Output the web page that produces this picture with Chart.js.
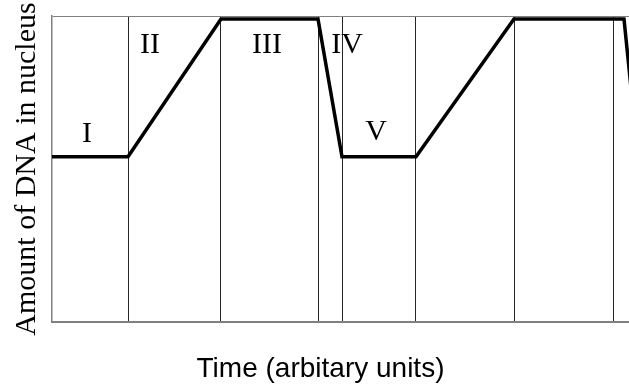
<!DOCTYPE html>
<html>
<head>
<meta charset="utf-8">
<script src="https://cdn.jsdelivr.net/npm/chart.js@4"></script>
<style>
  html, body { margin: 0; padding: 0; background: #fff; }
  #wrap { width: 629px; height: 389px; }
</style>
</head>
<body>
<div id="wrap"><canvas id="c" width="629" height="389"></canvas></div>
<script>
// Time points (arbitrary units) and relative DNA amount
const times   = [0, 7.6, 16.9, 26.6, 29.0, 36.4, 46.2, 57.2, 58.6];
const dnaAmt  = [5.4, 5.4, 9.9, 9.9, 5.4, 5.4, 9.9, 9.9, 5.4];
// Phase boundaries (vertical lines)
const boundaries = [7.6, 16.9, 26.6, 29.0, 36.4, 46.2, 56.1];
// Phase labels and where they sit (data units)
const phaseLabels = ['I', 'II', 'III', 'IV', 'V'];
const labelTimes  = [3.5, 9.8, 21.5, 29.5, 32.4];
const labelLevels = [5.88, 8.79, 8.79, 8.79, 5.95];
const xMax = 57.7;
const yMax = 10;

const phaseLabelPlugin = {
  id: 'phaseLabels',
  afterDatasetsDraw(chart) {
    const {ctx, scales: {x, y}} = chart;
    ctx.save();
    ctx.font = '30px "Liberation Serif", "Times New Roman", serif';
    ctx.fillStyle = '#000';
    ctx.textAlign = 'center';
    ctx.textBaseline = 'alphabetic';
    phaseLabels.forEach((t, i) => {
      ctx.fillText(t, x.getPixelForValue(labelTimes[i]), y.getPixelForValue(labelLevels[i]));
    });
    ctx.restore();
  }
};

new Chart(document.getElementById('c'), {
  type: 'line',
  data: {
    datasets: [{
      data: times.map((t, i) => ({x: t, y: dnaAmt[i]})),
      borderColor: '#000',
      borderWidth: 3.5,
      pointRadius: 0,
      tension: 0,
      fill: false
    }]
  },
  options: {
    responsive: false,
    animation: false,
    layout: { padding: { left: 12, top: 16, right: 0, bottom: 0 } },
    plugins: {
      legend: { display: false },
      tooltip: { enabled: false },
      title: {
        display: true,
        position: 'bottom',
        text: 'Time (arbitary units)',
        color: '#000',
        font: { family: '"Liberation Sans", Arial, sans-serif', size: 28, weight: 'normal', lineHeight: 1.2 },
        padding: { top: 30.5, bottom: 2.9 }
      }
    },
    scales: {
      x: {
        type: 'linear',
        min: 0,
        max: xMax,
        afterBuildTicks: (axis) => { axis.ticks = boundaries.map(v => ({value: v})); },
        ticks: { display: false },
        grid: { color: '#262626', lineWidth: 1, drawTicks: false },
        border: { display: true, color: '#808080', width: 2 }
      },
      y: {
        min: 0,
        max: yMax,
        afterBuildTicks: (axis) => { axis.ticks = [{value: yMax}]; },
        ticks: { display: false },
        grid: { color: '#808080', lineWidth: 1, drawTicks: false },
        border: { display: true, color: '#808080', width: 1.5 },
        title: {
          display: true,
          text: 'Amount of DNA in nucleus',
          color: '#000',
          font: { family: '"Liberation Serif", "Times New Roman", serif', size: 30, lineHeight: 1 },
          padding: { top: 0, bottom: 10 }
        }
      }
    }
  },
  plugins: [phaseLabelPlugin]
});
</script>
</body>
</html>
